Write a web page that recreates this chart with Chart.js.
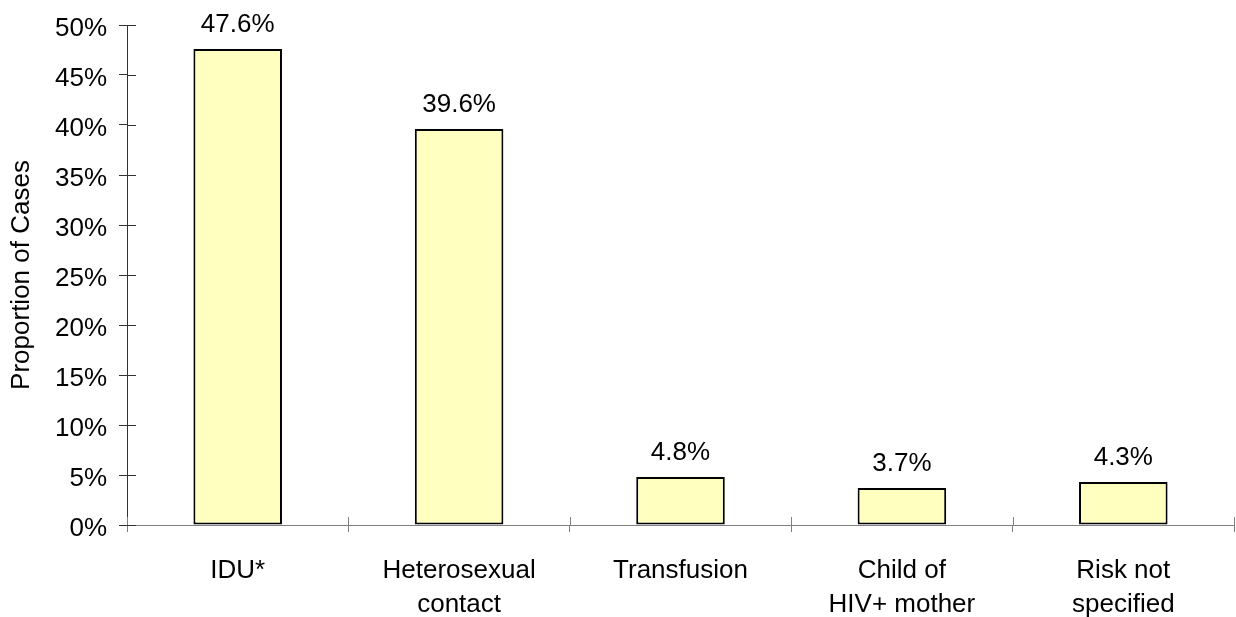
<!DOCTYPE html>
<html>
<head>
<meta charset="utf-8">
<script src="https://cdn.jsdelivr.net/npm/chart.js@4/dist/chart.umd.min.js"></script>
<style>
  html, body { margin: 0; padding: 0; background: #fff; }
  canvas { display: block; }
</style>
</head>
<body>
<canvas id="riskChart" width="1236" height="617"></canvas>
<script>
// Exposure categories (multi-line labels as arrays)
const categories = [
  "IDU*",
  ["Heterosexual", "contact"],
  "Transfusion",
  ["Child of", "HIV+ mother"],
  ["Risk not", "specified"]
];
const proportions = [47.6, 39.6, 4.8, 3.7, 4.3];
const yTicks = [0, 5, 10, 15, 20, 25, 30, 35, 40, 45, 50];

const FONT = "'Liberation Sans', Arial, sans-serif";

// value labels above each bar
const barLabels = {
  id: "barLabels",
  afterDatasetsDraw(chart) {
    const ctx = chart.ctx;
    const meta = chart.getDatasetMeta(0);
    ctx.save();
    ctx.font = "26px " + FONT;
    ctx.fillStyle = "#000";
    ctx.textAlign = "center";
    ctx.textBaseline = "alphabetic";
    meta.data.forEach((bar, i) => {
      ctx.fillText(proportions[i].toFixed(1) + "%", bar.x, bar.y - 17);
    });
    ctx.restore();
  }
};

// tick marks that cross into the plot area
const innerTicks = {
  id: "innerTicks",
  afterDraw(chart) {
    const ctx = chart.ctx;
    const x = chart.scales.x;
    const y = chart.scales.y;
    ctx.save();
    ctx.lineWidth = 1;
    ctx.strokeStyle = "#333";
    yTicks.forEach((v) => {
      const py = Math.round(y.getPixelForValue(v)) + 0.5;
      ctx.beginPath();
      ctx.moveTo(x.left, py);
      ctx.lineTo(x.left + 9, py);
      ctx.stroke();
    });
    ctx.strokeStyle = "#808080";
    const n = categories.length;
    for (let i = 0; i <= n; i++) {
      const px = Math.round(x.left + (x.width * i) / n) + 0.5;
      ctx.beginPath();
      ctx.moveTo(px, y.bottom);
      ctx.lineTo(px, y.bottom - 8);
      ctx.stroke();
    }
    ctx.restore();
  }
};

new Chart(document.getElementById("riskChart"), {
  type: "bar",
  data: {
    labels: categories,
    datasets: [
      {
        data: proportions,
        backgroundColor: "#ffffc0",
        borderColor: "#000",
        borderWidth: 2,
        borderSkipped: false,
        barPercentage: 0.4,
        categoryPercentage: 1.0
      }
    ]
  },
  options: {
    responsive: false,
    animation: false,
    layout: { padding: { top: 25, right: 2, left: 0, bottom: 0 } },
    plugins: {
      legend: { display: false },
      tooltip: { enabled: false }
    },
    scales: {
      x: {
        offset: true,
        grid: {
          offset: true,
          drawOnChartArea: false,
          drawTicks: true,
          tickLength: 7,
          tickColor: "#808080"
        },
        border: { color: "#808080", width: 1 },
        ticks: {
          color: "#000",
          padding: 22,
          maxRotation: 0,
          autoSkip: false,
          font: { family: FONT, size: 26, lineHeight: 1.3 }
        },
        afterFit(scale) { scale.height = 92; }
      },
      y: {
        min: 0,
        max: 50,
        grid: {
          drawOnChartArea: false,
          drawTicks: true,
          tickLength: 8,
          tickColor: "#333"
        },
        border: { color: "#333", width: 1 },
        ticks: {
          stepSize: 5,
          color: "#000",
          padding: 12,
          labelOffset: 4,
          font: { family: FONT, size: 26 },
          callback: (v) => v + "%"
        },
        title: {
          display: true,
          text: "Proportion of Cases",
          color: "#000",
          padding: { top: 6, bottom: 0 },
          font: { family: FONT, size: 26, lineHeight: 1.2 }
        },
        afterFit(scale) {
          scale.width = 127;
          // keep the plot top pinned to the layout padding
          scale.paddingTop = 0;
          scale.paddingBottom = 0;
        }
      }
    }
  },
  plugins: [barLabels, innerTicks]
});
</script>
</body>
</html>
